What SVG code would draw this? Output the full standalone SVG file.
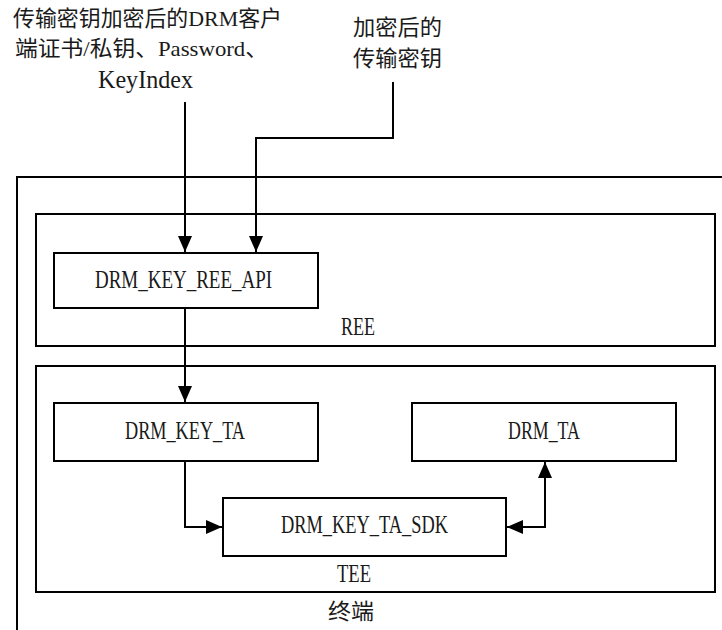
<svg xmlns="http://www.w3.org/2000/svg" width="722" height="630" viewBox="0 0 722 630">
<style>
.box{fill:#fff;stroke:#000;stroke-width:2}
.frame{fill:none;stroke:#000;stroke-width:2}
.t{font-family:"Liberation Serif","Noto Sans CJK SC",serif;font-size:26px;fill:#1a1a1a}
.c{font-family:"Liberation Serif","Noto Sans CJK SC",serif;font-size:22px;fill:#1a1a1a}
.conn{fill:none;stroke:#000;stroke-width:2}
</style>
<defs>
<marker id="ah" viewBox="0 0 16 14" refX="16" refY="7" markerWidth="16" markerHeight="14" markerUnits="userSpaceOnUse" orient="auto-start-reverse">
<path d="M0,0 L16,7 L0,14 z" fill="#000"/>
</marker>
</defs>
<rect width="722" height="630" fill="#fff"/>

<g id="terminal">
<rect class="frame" x="17" y="177" width="720" height="470"/>
<text class="c" x="328" y="619" textLength="46" lengthAdjust="spacingAndGlyphs">终端</text>
</g>

<g id="ree">
<rect class="box" x="36" y="214" width="679" height="132"/>
<text class="t" x="341" y="335" textLength="34" lengthAdjust="spacingAndGlyphs">REE</text>
</g>

<g id="tee">
<rect class="box" x="36" y="366" width="679" height="226"/>
<text class="t" x="337" y="582" textLength="34" lengthAdjust="spacingAndGlyphs">TEE</text>
</g>

<g id="drm_key_ree_api">
<rect class="box" x="54" y="253" width="264" height="55"/>
<text class="t" x="95" y="288" textLength="177" lengthAdjust="spacingAndGlyphs">DRM_KEY_REE_API</text>
</g>

<g id="drm_key_ta">
<rect class="box" x="54" y="403" width="264" height="58"/>
<text class="t" x="125" y="439" textLength="120" lengthAdjust="spacingAndGlyphs">DRM_KEY_TA</text>
</g>

<g id="drm_ta">
<rect class="box" x="412" y="403" width="264" height="58"/>
<text class="t" x="508" y="439" textLength="72" lengthAdjust="spacingAndGlyphs">DRM_TA</text>
</g>

<g id="drm_key_ta_sdk">
<rect class="box" x="223" y="498" width="283" height="58"/>
<text class="t" x="281" y="533" textLength="167" lengthAdjust="spacingAndGlyphs">DRM_KEY_TA_SDK</text>
</g>

<g id="label_left">
<text class="c" x="13" y="26" textLength="269" lengthAdjust="spacingAndGlyphs">传输密钥加密后的DRM客户</text>
<text class="c" x="15" y="56" textLength="253" lengthAdjust="spacingAndGlyphs">端证书/私钥、Password、</text>
<text class="t" x="98" y="88" textLength="95" lengthAdjust="spacingAndGlyphs">KeyIndex</text>
</g>

<g id="label_right">
<text class="c" x="353" y="35" textLength="89" lengthAdjust="spacingAndGlyphs">加密后的</text>
<text class="c" x="353" y="66" textLength="89" lengthAdjust="spacingAndGlyphs">传输密钥</text>
</g>

<g id="connectors">
<path class="conn" d="M185,102 V252" marker-end="url(#ah)"/>
<path class="conn" d="M393,82 V138 H256 V252" marker-end="url(#ah)"/>
<path class="conn" d="M185,308 V402" marker-end="url(#ah)"/>
<path class="conn" d="M185,461 V527 H222" marker-end="url(#ah)"/>
<path class="conn" d="M507,527 H545 V462" marker-start="url(#ah)" marker-end="url(#ah)"/>
</g>
</svg>
